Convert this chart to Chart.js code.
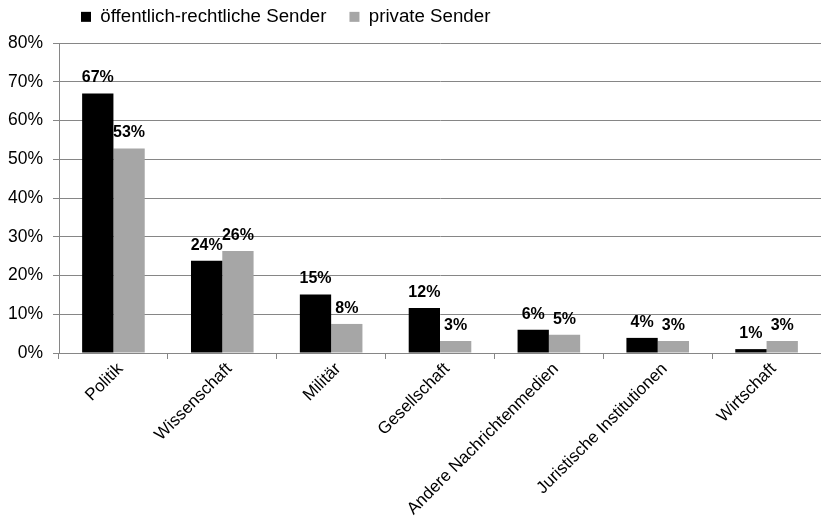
<!DOCTYPE html>
<html>
<head>
<meta charset="utf-8">
<script src="https://cdn.jsdelivr.net/npm/chart.js@4/dist/chart.umd.min.js"></script>
<style>
html,body{margin:0;padding:0;background:#fff;}
canvas{display:block;}
</style>
</head>
<body>
<canvas id="c" width="821" height="518" style="width:821px;height:518px"></canvas>
<script>
const categories = ['Politik', 'Wissenschaft', 'Militär', 'Gesellschaft', 'Andere Nachrichtenmedien', 'Juristische Institutionen', 'Wirtschaft'];
const seriesNames = ['öffentlich-rechtliche Sender', 'private Sender'];
const publicValues = [67.0, 23.8, 15.1, 11.6, 6.0, 3.9, 1.0];
const privateValues = [52.8, 26.3, 7.5, 3.1, 4.7, 3.1, 3.1];
const publicLabels = ['67%', '24%', '15%', '12%', '6%', '4%', '1%'];
const privateLabels = ['53%', '26%', '8%', '3%', '5%', '3%', '3%'];
const yMin = 0, yMax = 80, yStep = 10;

const FONT = '"Liberation Sans", Arial, Helvetica, sans-serif';
Chart.defaults.font.family = FONT;
Chart.defaults.color = '#000';

const GRID = '#868686';

const barLabels = {
  id: 'barLabels',
  afterDatasetsDraw(chart) {
    const ctx = chart.ctx;
    ctx.save();
    ctx.font = 'bold 16px ' + FONT;
    ctx.fillStyle = '#000';
    ctx.textAlign = 'center';
    ctx.textBaseline = 'alphabetic';
    chart.data.datasets.forEach((ds, i) => {
      const meta = chart.getDatasetMeta(i);
      meta.data.forEach((bar, j) => {
        ctx.fillText(ds.valueLabels[j], bar.x, bar.y - 11);
      });
    });
    ctx.restore();
  }
};

const legendShift = {
  id: 'legendShift',
  afterLayout(chart) {
    const lg = chart.legend;
    if (!lg) return;
    lg.left = 58;
    lg.top = -15.5;
  }
};

new Chart(document.getElementById('c'), {
  type: 'bar',
  data: {
    labels: categories,
    datasets: [
      { label: seriesNames[0], data: publicValues, valueLabels: publicLabels, backgroundColor: '#000000', borderWidth: 0 },
      { label: seriesNames[1], data: privateValues, valueLabels: privateLabels, backgroundColor: '#a6a6a6', borderWidth: 0 }
    ]
  },
  options: {
    responsive: false,
    animation: false,
    devicePixelRatio: 1,
    layout: { padding: { left: 0, right: 0, top: 0, bottom: 0 } },
    datasets: { bar: { categoryPercentage: 0.575, barPercentage: 1.0 } },
    plugins: {
      legend: {
        position: 'top',
        align: 'start',
        maxHeight: 43,
        labels: {
          boxWidth: 10,
          boxHeight: 10,
          padding: 23,
          color: '#000',
          font: { size: 18.7, family: FONT }
        }
      },
      tooltip: { enabled: false }
    },
    scales: {
      x: {
        offset: true,
        grid: { display: true, drawOnChartArea: false, drawTicks: true, tickLength: 6, color: GRID, offset: true },
        border: { display: true, color: GRID, width: 1 },
        ticks: { minRotation: 45, maxRotation: 45, autoSkip: false, padding: 0, labelOffset: 7, color: '#000', font: { size: 17, family: FONT } },
        afterFit(scale) { scale.height = 165; }
      },
      y: {
        min: yMin,
        max: yMax,
        grid: { color: GRID, drawTicks: true, tickLength: 6 },
        border: { display: true, color: GRID, width: 1 },
        ticks: { stepSize: yStep, padding: 10, color: '#000', font: { size: 17.5, family: FONT }, callback: v => v + '%' },
        afterFit(scale) { scale.width = 59; }
      }
    }
  },
  plugins: [barLabels, legendShift]
});
</script>
</body>
</html>
